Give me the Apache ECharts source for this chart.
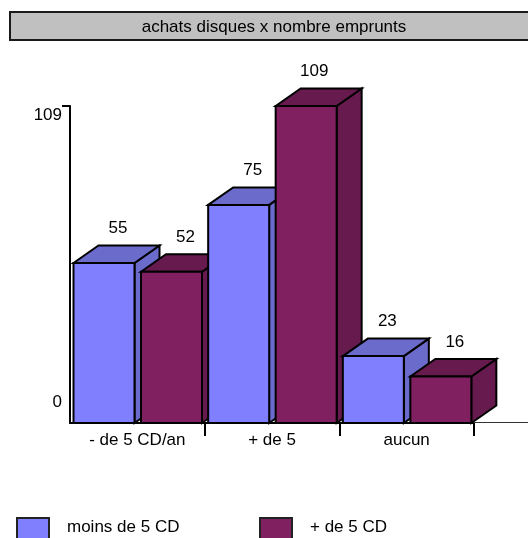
<!DOCTYPE html>
<html>
<head>
<meta charset="utf-8">
<style>html,body{margin:0;padding:0;background:#fff}#c{width:528px;height:538px}</style>
<script src="https://cdn.jsdelivr.net/npm/echarts@6/dist/echarts.min.js"></script>
</head>
<body>
<div id="c"></div>
<script>
// Disc purchases crossed with number of loans
const categories = ['- de 5 CD/an', '+ de 5', 'aucun'];
const moinsDe5 = [55, 75, 23];
const plusDe5 = [52, 109, 16];
const yTicks = [0, 109];
const chartTitle = 'achats disques x nombre emprunts';

const FONT = '"Liberation Sans", Arial, sans-serif';
const FONT_SIZE = 17;
const DEPTH_X = 25, DEPTH_Y = 17.5;
const BAR_WIDTH = 61;
const INK = '#000';

// Extruded bar: front face, top and right side, with the value above it
function prism(slotOffset, front, dark, seriesOrder) {
  return function (params, api) {
    const cat = api.value(0), val = api.value(1);
    const band = api.size([1, 0])[0];
    const base = api.coord([cat, 0]);
    const tip = api.coord([cat, val]);
    const x0 = base[0] - band / 2 + slotOffset;
    const x1 = x0 + BAR_WIDTH;
    const yb = base[1], yt = tip[1];
    const z2 = cat * 10 + seriesOrder * 5;
    const edge = { stroke: INK, lineWidth: 2, lineJoin: 'miter' };
    const labelShift = val === Math.max.apply(null, plusDe5) ? 8 : 14;
    return {
      type: 'group',
      children: [
        { type: 'polygon', z2: z2,
          shape: { points: [[x1, yb], [x1 + DEPTH_X, yb - DEPTH_Y], [x1 + DEPTH_X, yt - DEPTH_Y], [x1, yt]] },
          style: Object.assign({ fill: dark }, edge) },
        { type: 'polygon', z2: z2,
          shape: { points: [[x0, yt], [x0 + DEPTH_X, yt - DEPTH_Y], [x1 + DEPTH_X, yt - DEPTH_Y], [x1, yt]] },
          style: Object.assign({ fill: dark }, edge) },
        { type: 'rect', z2: z2 + 1,
          shape: { x: x0, y: yt, width: BAR_WIDTH, height: yb - yt },
          style: Object.assign({ fill: front }, edge) },
        { type: 'text', z2: 100,
          style: { text: String(val), x: (x0 + x1) / 2 + labelShift, y: yt - DEPTH_Y - 17,
                   fill: '#000', font: FONT_SIZE + 'px ' + FONT, align: 'center', verticalAlign: 'middle' } }
      ]
    };
  };
}

function legendAt(name, left) {
  return {
    data: [{ name: name, icon: 'rect' }], left: left, top: 512, orient: 'horizontal',
    itemWidth: 32, itemHeight: 30, selectedMode: false,
    itemStyle: { borderColor: '#222', borderWidth: 2 },
    formatter: '{t|{name}}',
    textStyle: {
      fontFamily: FONT, fontSize: FONT_SIZE, color: '#000', padding: [0, 0, 0, 13],
      rich: { t: { fontFamily: FONT, fontSize: FONT_SIZE, color: '#000', padding: [0, 0, 12, 0] } }
    }
  };
}

const chart = echarts.init(document.getElementById('c'), null, { renderer: 'canvas' });
chart.setOption({
  animation: false,
  backgroundColor: '#fff',
  title: {
    text: chartTitle, left: 269, top: 14, textAlign: 'center',
    textStyle: { fontFamily: FONT, fontSize: FONT_SIZE, fontWeight: 'normal', color: '#000', lineHeight: 16 }
  },
  graphic: [{
    type: 'rect', z: -1,
    shape: { x: 10, y: 12, width: 520, height: 28 },
    style: { fill: '#c0c0c0', stroke: '#1a1a1a', lineWidth: 2 }
  }],
  grid: [
    { left: 70, top: 106, width: 404, height: 317 },
    { left: 474, top: 106, width: 54, height: 316 }
  ],
  xAxis: [{
    type: 'category', gridIndex: 0, data: categories,
    axisLine: { lineStyle: { color: INK, width: 2 } },
    axisTick: { show: true, length: 13, lineStyle: { color: INK, width: 2 },
                interval: function (i) { return i > 0; } },
    axisLabel: { color: '#000', fontFamily: FONT, fontSize: FONT_SIZE, margin: 9, interval: 0 }
  }, {
    type: 'category', gridIndex: 1, data: [''],
    axisLine: { lineStyle: { color: '#333', width: 1 } },
    axisTick: { show: false }, axisLabel: { show: false }
  }],
  yAxis: [{
    type: 'value', gridIndex: 0, min: yTicks[0], max: yTicks[1],
    splitLine: { show: false },
    axisLine: { show: true, onZero: false, lineStyle: { color: INK, width: 2 } },
    axisTick: { show: true, length: 8, customValues: [yTicks[1]], lineStyle: { color: INK, width: 2 } },
    axisLabel: {
      customValues: yTicks, margin: 8, color: '#000',
      formatter: function (v) { return v === yTicks[0] ? '{low|' + v + '}' : '{high|' + v + '}'; },
      rich: {
        low: { fontFamily: FONT, fontSize: FONT_SIZE, color: '#000', padding: [0, 0, 42, 0] },
        high: { fontFamily: FONT, fontSize: FONT_SIZE, color: '#000', padding: [18, 0, 0, 0] }
      }
    }
  }, {
    type: 'value', gridIndex: 1, min: 0, max: 1, show: false
  }],
  legend: [legendAt('moins de 5 CD', 11), legendAt('+ de 5 CD', 254)],
  series: [{
    name: 'moins de 5 CD', type: 'custom', xAxisIndex: 0, yAxisIndex: 0,
    renderItem: prism(3.5, '#8080ff', '#6b6bcc', 0),
    itemStyle: { color: '#8080ff' },
    encode: { x: 0, y: 1 },
    data: moinsDe5.map(function (v, i) { return [i, v]; })
  }, {
    name: '+ de 5 CD', type: 'custom', xAxisIndex: 0, yAxisIndex: 0,
    renderItem: prism(71, '#802060', '#661a4d', 1),
    itemStyle: { color: '#802060' },
    encode: { x: 0, y: 1 },
    data: plusDe5.map(function (v, i) { return [i, v]; })
  }]
});
</script>
</body>
</html>
